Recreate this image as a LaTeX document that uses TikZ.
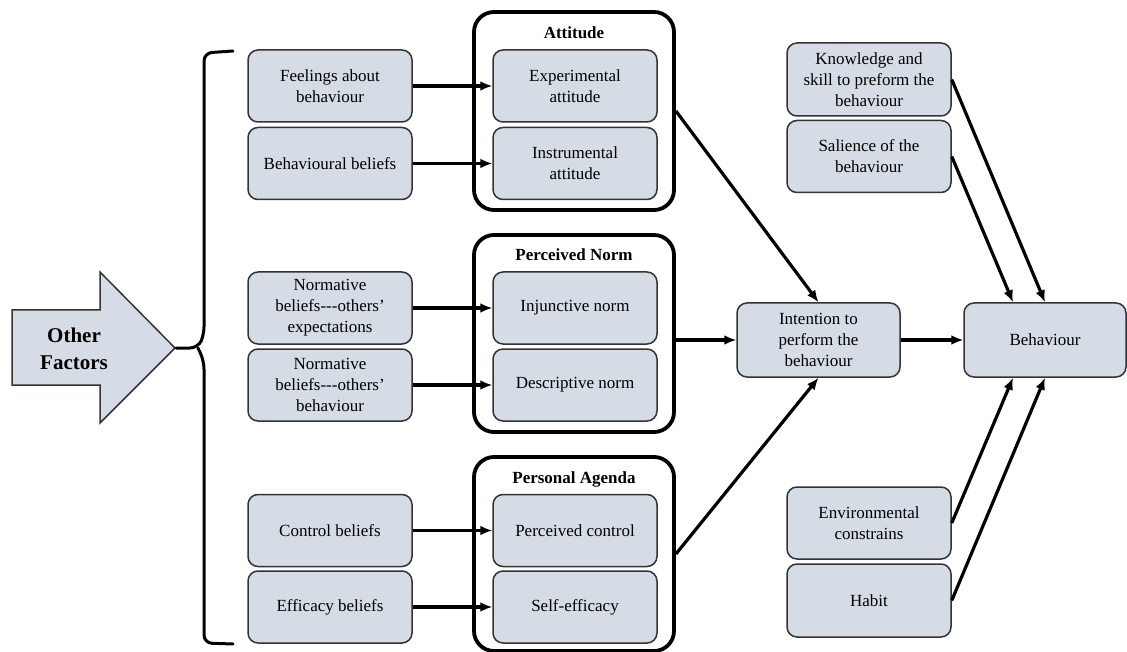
\documentclass[tikz,border=0pt]{standalone}
\usepackage{fontspec}
\setmainfont{Liberation Serif}
\usetikzlibrary{arrows.meta}

\definecolor{boxfill}{HTML}{D6DCE5}
\definecolor{boxline}{HTML}{333333}

\tikzset{
  factor/.style={draw=boxline, fill=boxfill, line width=1.5pt, rounded corners=10pt,
    minimum width=164pt, minimum height=72pt, align=center, inner sep=2pt,
    font=\fontsize{17}{21}\selectfont},
  group/.style={draw, line width=3.8pt, rounded corners=20pt, minimum width=200pt},
  grouptitle/.style={font=\fontsize{17}{21}\selectfont\bfseries},
  link/.style={-{Latex[length=12pt,width=10pt]}, line width=3.2pt}
}

\begin{document}
\begin{tikzpicture}[x=1pt,y=-1pt]
      \useasboundingbox (0,0) rectangle (1127,652);
      % Other Factors arrow
      \draw[draw=boxline, fill=boxfill, line width=1.5pt] (12,310) -- (100,310) -- (100,272) -- (175,348)
        -- (100,423) -- (100,385) -- (12,385) -- cycle;
      \node[align=center, font=\fontsize{21}{27}\selectfont\bfseries] (other) at (74,349) {Other\\Factors};
      % the brace
      \draw[line width=3pt, line cap=round, rounded corners=8pt] (233,51) -- (204,53) -- (204,335) -- (198,348) -- (176,348);
      \draw[line width=3pt, line cap=round, rounded corners=8pt] (233,644) -- (204,643) -- (204,361) -- (198,348);

      % the three groups
      \node[group, minimum height=198pt] (att) at (574,111) {};
      \node[grouptitle] (atttitle) at (574,33) {Attitude};
      \node[group, minimum height=197pt] (norm) at (574,333.5) {};
      \node[grouptitle] (normtitle) at (574,255) {Perceived Norm};
      \node[group, minimum height=194pt] (agenda) at (574,554) {};
      \node[grouptitle] (agendatitle) at (574,479) {Personal Agenda};

      % beliefs on the left
      \node[factor] (feel) at (330,86) {Feelings about\\behaviour};
      \node[factor] (behbel) at (330,163.5) {Behavioural beliefs};
      \node[factor] (normexp) at (330,308) {Normative\\beliefs{-}{-}{-}others'\\expectations};
      \node[factor] (normbeh) at (330,385) {Normative\\beliefs{-}{-}{-}others'\\behaviour};
      \node[factor] (ctrl) at (330,530.5) {Control beliefs};
      \node[factor] (effic) at (330,607) {Efficacy beliefs};

      % inner boxes
      \node[factor] (exper) at (575,86) {Experimental\\attitude};
      \node[factor] (instr) at (575,163.5) {Instrumental\\attitude};
      \node[factor] (injunc) at (575,308) {Injunctive norm};
      \node[factor] (descr) at (575,385) {Descriptive norm};
      \node[factor] (perc) at (575,530.5) {Perceived control};
      \node[factor] (selfeff) at (575,607) {Self-efficacy};

      % intention and behaviour
      \node[factor, minimum width=163pt, minimum height=74pt] (intent) at (818.5,340) {Intention to\\perform the\\behaviour};
      \node[factor, minimum width=162pt, minimum height=74pt] (behav) at (1045,340) {Behaviour};

      % side factors
      \node[factor, minimum height=73pt] (know) at (869,79.5) {Knowledge and\\skill to preform the\\behaviour};
      \node[factor] (salience) at (869,156.5) {Salience of the\\behaviour};
      \node[factor] (envir) at (869,523) {Environmental\\constrains};
      \node[factor, minimum height=73pt] (habit) at (869,600.5) {Habit};

      % beliefs into the groups
      \draw[link] (feel) -- (exper);
      \draw[link] (behbel) -- (instr);
      \draw[link] (normexp) -- (injunc);
      \draw[link] (normbeh) -- (descr);
      \draw[link] (ctrl) -- (perc);
      \draw[link] (effic) -- (selfeff);

      % groups into intention
      \draw[link] (att.east) -- (intent.north);
      \draw[link] (norm.east |- intent.west) -- (intent.west);
      \draw[link] (agenda.east) -- (intent.south);
      \draw[link] (intent) -- (behav);

      % side factors into behaviour
      \draw[link] (know.east) -- (behav.north);
      \draw[link] (salience.east) -- ([xshift=-32pt]behav.north);
      \draw[link] (envir.east) -- ([xshift=-32pt]behav.south);
      \draw[link] (habit.east) -- (behav.south);
    \end{tikzpicture}
\end{document}
